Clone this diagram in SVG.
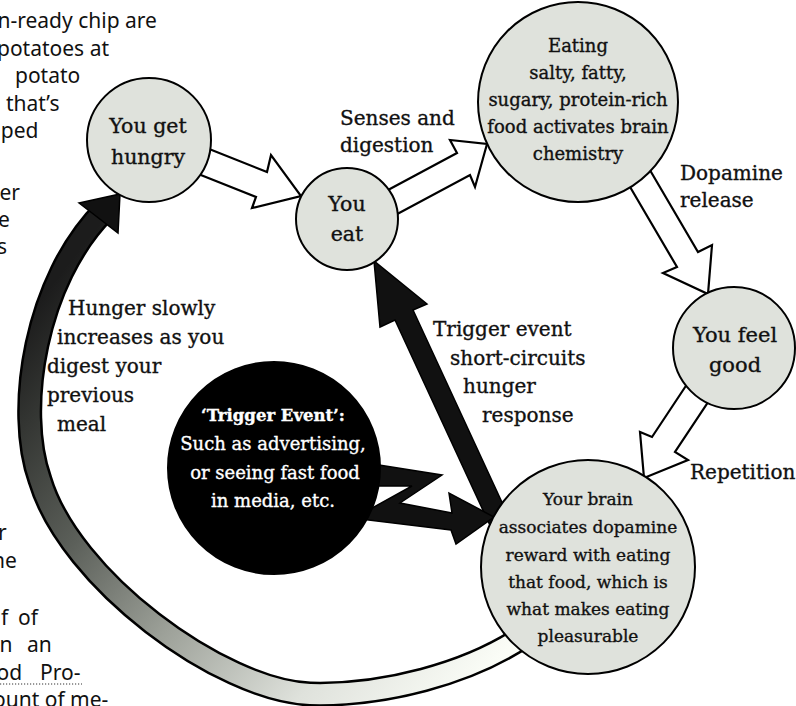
<svg xmlns="http://www.w3.org/2000/svg" width="796" height="706" viewBox="0 0 796 706">
<defs>
<linearGradient id="arcGrad" gradientUnits="userSpaceOnUse" x1="500" y1="660" x2="40" y2="300">
<stop offset="0" stop-color="#fbfdf7"/>
<stop offset="0.23" stop-color="#dfe2dc"/>
<stop offset="0.48" stop-color="#9da199"/>
<stop offset="0.7" stop-color="#5b5f59"/>
<stop offset="0.89" stop-color="#333532"/>
<stop offset="1" stop-color="#1c1c1c"/>
</linearGradient>
<style>
.bg{font-family:"Noto Sans","DejaVu Sans",sans-serif;font-size:21px;fill:#111}
.node circle{fill:#dfe2dc;stroke:#000;stroke-width:2}
.dark circle{fill:#000;stroke:#000;stroke-width:2}
.t{font-family:"DejaVu Serif","Liberation Serif",serif;fill:#111;stroke:#111;stroke-width:0.35;text-anchor:middle}
.w{fill:#fff;stroke:#fff}
.lbl{font-family:"DejaVu Serif","Liberation Serif",serif;font-size:20px;fill:#111;stroke:#111;stroke-width:0.35}
.hollow{fill:#fff;stroke:#000;stroke-width:2.2;stroke-linejoin:miter}
.solid{fill:#111;stroke:#000;stroke-width:1.5;stroke-linejoin:miter}
</style>
</defs>
<rect width="796" height="706" fill="#fff"/>

<g id="page-text" class="bg">
<text x="-2.5" y="28">n-ready chip are</text>
<text x="-3" y="55.5">potatoes at</text>
<text x="15" y="83">potato</text>
<text x="6" y="110.5">that’s</text>
<text x="-11" y="138">aped</text>
<text x="-0.5" y="200">er</text>
<text x="-2" y="227">e</text>
<text x="-3" y="254">s</text>
<text x="-2" y="540">r</text>
<text x="-8" y="568">ne</text>
<text y="625"><tspan x="1">f </tspan><tspan x="18">of</tspan></text>
<text y="652"><tspan x="-0.5">n </tspan><tspan x="27">an</tspan></text>
<text y="680"><tspan x="-3.5">od </tspan><tspan x="40">Pro-</tspan></text>
<text x="-7" y="707">ount of me-</text>
<line x1="0" y1="684" x2="82" y2="684" stroke="#333" stroke-width="1" stroke-dasharray="1.2 1.8"/>
</g>

<g id="connectors">
<path d="M530,632 C470,675 380,696 310,694 C220,690 70,580 40,480 C15,410 35,280 105,210" fill="none" stroke="#000" stroke-width="25"/>
<path d="M530,632 C470,675 380,696 310,694 C220,690 70,580 40,480 C15,410 35,280 105,210" fill="none" stroke="url(#arcGrad)" stroke-width="20"/>
<polygon class="solid" points="79,203 120,194 118,233"/>
<polygon class="hollow" points="174,135 267,172 271,155 301,196 252,208 256,197 163,160"/>
<polygon class="hollow" points="360,205 457,153 450,140 487,144 475,187 470,175 373,227"/>
<polygon class="hollow" points="616,163 677,267 663,273 708,294 712,245 698,252 637,148"/>
<polygon class="hollow" points="713,345 652,437 640,432 644,478 688,460 675,452 736,360"/>
<polygon class="solid" points="500,547 395,320 380,327 374,261 427,304 413,310 518,537"/>
<polygon class="solid" points="360,462 442,475 400,503 452,513 449,493 494,517 456,544 451,530 360,519 372,508 412,486 378,486"/>
</g>

<g id="node-hungry" class="node">
<circle cx="149" cy="140" r="62"/>
<text class="t" font-size="20.5" x="148" y="133">You get</text>
<text class="t" font-size="20.5" x="148" y="164">hungry</text>
</g>
<g id="node-eat" class="node">
<circle cx="347" cy="219" r="51"/>
<text class="t" font-size="20.5" x="347" y="211">You</text>
<text class="t" font-size="20.5" x="347" y="241">eat</text>
</g>
<g id="node-eating" class="node">
<circle cx="578" cy="102" r="100"/>
<text class="t" font-size="18" x="578" y="52">Eating</text>
<text class="t" font-size="18" x="578" y="79">salty, fatty,</text>
<text class="t" font-size="18" x="578" y="106">sugary, protein-rich</text>
<text class="t" font-size="18" x="578" y="133">food activates brain</text>
<text class="t" font-size="18" x="578" y="160">chemistry</text>
</g>
<g id="node-feel-good" class="node">
<circle cx="734" cy="348" r="61"/>
<text class="t" font-size="21" x="735" y="342">You feel</text>
<text class="t" font-size="21" x="735" y="372">good</text>
</g>
<g id="node-brain" class="node">
<circle cx="588" cy="567" r="107"/>
<text class="t" font-size="17" x="588" y="505">Your brain</text>
<text class="t" font-size="17" x="588" y="533">associates dopamine</text>
<text class="t" font-size="17" x="588" y="561">reward with eating</text>
<text class="t" font-size="17" x="588" y="588">that food, which is</text>
<text class="t" font-size="17" x="588" y="615">what makes eating</text>
<text class="t" font-size="17" x="588" y="642">pleasurable</text>
</g>
<g id="node-trigger" class="dark">
<circle cx="274" cy="468" r="106"/>
<text class="t w" font-size="16.5" font-weight="bold" x="273" y="421">‘Trigger Event’:</text>
<text class="t w" font-size="18" x="273" y="450">Such as advertising,</text>
<text class="t w" font-size="18" x="275" y="478.5">or seeing fast food</text>
<text class="t w" font-size="18" x="273" y="507">in media, etc.</text>
</g>

<g id="labels" class="lbl">
<text x="340" y="125">Senses and</text>
<text x="340" y="152">digestion</text>
<text x="680" y="180">Dopamine</text>
<text x="680" y="207">release</text>
<text x="690" y="479">Repetition</text>
<text x="433" y="336">Trigger event</text>
<text x="450" y="365">short-circuits</text>
<text x="463" y="393">hunger</text>
<text x="482" y="422">response</text>
<text x="68" y="315">Hunger slowly</text>
<text x="57" y="344">increases as you</text>
<text x="47" y="373">digest your</text>
<text x="47" y="402">previous</text>
<text x="57" y="431">meal</text>
</g>
</svg>
